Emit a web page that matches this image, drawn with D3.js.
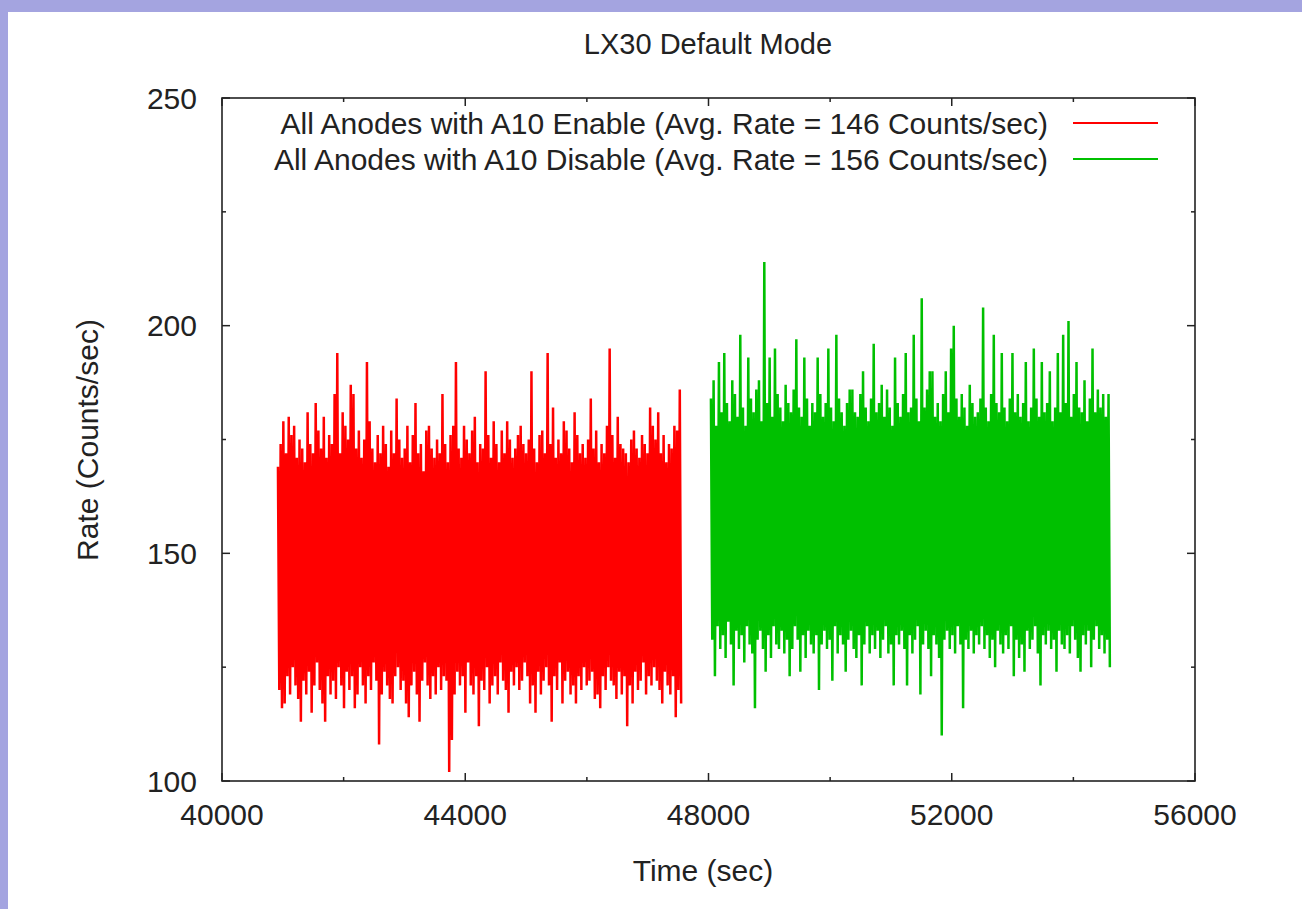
<!DOCTYPE html>
<html>
<head>
<meta charset="utf-8">
<script src="https://cdn.jsdelivr.net/npm/d3@7"></script>
<style>
  body { margin: 0; background: #fff; }
  text { font-family: "Liberation Sans", Arial, sans-serif; fill: #222; }
</style>
</head>
<body>
<svg id="chart" width="1302" height="909"></svg>
<script>
// rate samples (counts/sec), alternating peak / trough
var redRate = [
  169,120, 174,116, 179,117, 172,123, 180,119, 176,125, 178,121, 171,118, 175,113, 173,122,
  170,119, 181,124, 174,115, 172,121, 183,126, 177,120, 173,117, 180,113, 171,123, 176,119,
  174,122, 185,118, 194,125, 172,121, 181,116, 178,124, 175,120, 187,123, 185,116, 173,119,
  177,125, 171,121, 175,117, 192,123, 179,120, 173,126, 170,122, 176,108, 172,119, 178,124,
  174,121, 169,118, 177,117, 172,123, 184,125, 175,120, 171,122, 173,117, 178,114, 170,121,
  176,124, 183,119, 172,113, 174,122, 168,126, 177,121, 178,118, 173,123, 171,119, 175,125,
  172,120, 185,123, 174,122, 170,102, 176,109, 178,119, 192,124, 173,121, 171,123, 178,115,
  175,126, 172,121, 177,119, 180,123, 170,112, 174,122, 173,120, 190,125, 176,117, 171,121,
  179,123, 174,119, 170,126, 177,122, 172,120, 179,115, 175,124, 171,121, 173,125, 176,120,
  178,122, 174,126, 172,123, 175,117, 190,121, 173,115, 170,124, 176,119, 177,122, 172,125,
  194,121, 174,113, 182,123, 171,120, 175,126, 172,117, 179,122, 177,124, 173,119, 170,121,
  181,117, 176,123, 172,120, 174,125, 171,121, 175,122, 184,124, 173,118, 177,119, 170,116,
  174,123, 172,120, 178,125, 195,122, 176,121, 171,118, 180,124, 174,119, 173,123, 172,112,
  170,121, 175,117, 177,124, 173,120, 171,122, 176,126, 174,119, 172,123, 182,121, 178,125,
  175,122, 181,120, 172,117, 176,124, 170,121, 174,119, 173,123, 178,114, 177,120, 186,117
];
var greenRate = [
  184,131, 188,123, 178,134, 192,129, 181,132, 194,127, 183,135, 179,130, 188,121, 185,133,
  180,129, 198,132, 182,126, 178,134, 193,130, 184,128, 181,116, 186,131, 188,133, 179,129,
  214,124, 183,132, 193,127, 180,134, 195,130, 185,129, 182,133, 179,128, 187,131, 183,123,
  181,129, 186,134, 197,131, 182,124, 180,132, 193,127, 184,133, 178,130, 183,128, 181,132,
  193,120, 185,130, 180,133, 183,129, 195,131, 182,122, 179,134, 198,128, 184,132, 181,130,
  178,124, 183,131, 186,133, 186,129, 181,127, 180,132, 185,121, 190,130, 182,134, 179,128,
  184,132, 196,129, 181,133, 183,127, 187,131, 180,134, 186,128, 182,130, 178,121, 193,132,
  183,130, 180,133, 185,129, 194,121, 181,132, 182,128, 198,131, 184,134, 179,119, 206,130,
  182,133, 186,129, 190,123, 190,132, 180,130, 183,127, 179,110, 185,131, 190,133, 181,129,
  195,132, 200,128, 184,134, 180,130, 185,116, 182,131, 178,129, 187,133, 183,128, 180,132,
  181,130, 184,134, 204,129, 182,132, 179,127, 185,131, 198,125, 183,133, 181,130, 194,128,
  182,132, 179,129, 184,134, 194,123, 181,131, 185,127, 180,130, 183,124, 192,133, 179,129,
  182,131, 195,134, 184,128, 180,121, 192,132, 181,130, 183,133, 190,129, 179,131, 182,124,
  194,133, 181,130, 198,129, 183,132, 201,128, 180,134, 185,131, 192,127, 182,124, 181,132,
  188,130, 179,133, 184,125, 195,131, 181,134, 186,129, 182,132, 185,128, 180,131, 185,125
];
var redSpan = [40920, 47550];
var greenSpan = [48040, 54600];
var seriesNames = [
  "All Anodes with A10 Enable (Avg. Rate = 146 Counts/sec)",
  "All Anodes with A10 Disable (Avg. Rate = 156 Counts/sec)"
];
var seriesColors = ["#ff0000", "#00c000"];
var xTicks = [40000, 44000, 48000, 52000, 56000];
var xMinor = [42000, 46000, 50000, 54000];
var yTicks = [100, 150, 200, 250];
var yMinor = [125, 175, 225];

var svg = d3.select("#chart");

// lavender frame of the original screenshot
svg.append("rect").attr("x", 0).attr("y", 0).attr("width", 1302).attr("height", 12).attr("fill", "#a4a4e0");
svg.append("rect").attr("x", 0).attr("y", 0).attr("width", 8).attr("height", 909).attr("fill", "#a4a4e0");

var pLeft = 222, pRight = 1195, pTop = 98, pBottom = 781;

var x = d3.scaleLinear().domain([40000, 56000]).range([pLeft, pRight]);
var y = d3.scaleLinear().domain([100, 250]).range([pBottom, pTop]);

function toPoints(vals, span) {
    var step = (span[1] - span[0]) / (vals.length - 1);
    return vals.map(function(v, i) { return [span[0] + i * step, v]; });
}

var line = d3.line()
             .x(function(d) { return x(d[0]); })
             .y(function(d) { return y(d[1]); });

var plot = svg.append("g");
plot.append("path")
    .datum(toPoints(redRate, redSpan))
    .attr("d", line)
    .attr("fill", "none")
    .attr("stroke", seriesColors[0])
    .attr("stroke-width", 2.5)
    .attr("stroke-linejoin", "bevel");
plot.append("path")
    .datum(toPoints(greenRate, greenSpan))
    .attr("d", line)
    .attr("fill", "none")
    .attr("stroke", seriesColors[1])
    .attr("stroke-width", 2.5)
    .attr("stroke-linejoin", "bevel");

// gnuplot style ticks: inward, mirrored
var ax = svg.append("g").attr("stroke", "#222").attr("stroke-width", 1.5);
xTicks.concat(xMinor).forEach(function(t) {
    var len = xTicks.indexOf(t) >= 0 ? 8 : 4;
    ax.append("line").attr("x1", x(t)).attr("x2", x(t)).attr("y1", pBottom).attr("y2", pBottom - len);
    ax.append("line").attr("x1", x(t)).attr("x2", x(t)).attr("y1", pTop).attr("y2", pTop + len);
});
yTicks.concat(yMinor).forEach(function(t) {
    var len = yTicks.indexOf(t) >= 0 ? 8 : 4;
    ax.append("line").attr("x1", pLeft).attr("x2", pLeft + len).attr("y1", y(t)).attr("y2", y(t));
    ax.append("line").attr("x1", pRight).attr("x2", pRight - len).attr("y1", y(t)).attr("y2", y(t));
});
svg.append("rect")
   .attr("x", pLeft).attr("y", pTop)
   .attr("width", pRight - pLeft).attr("height", pBottom - pTop)
   .attr("fill", "none").attr("stroke", "#222").attr("stroke-width", 1.6);

svg.selectAll(".xlab").data(xTicks).enter().append("text")
   .attr("class", "xlab")
   .attr("x", function(d) { return x(d); })
   .attr("y", 825)
   .attr("text-anchor", "middle")
   .style("font-size", "30px")
   .text(function(d) { return d; });

svg.selectAll(".ylab").data(yTicks).enter().append("text")
   .attr("class", "ylab")
   .attr("x", 197)
   .attr("y", function(d) { return y(d); })
   .attr("dy", "0.36em")
   .attr("text-anchor", "end")
   .style("font-size", "30px")
   .text(function(d) { return d; });

svg.append("text")
   .attr("x", 708).attr("y", 54)
   .attr("text-anchor", "middle")
   .style("font-size", "29px")
   .text("LX30 Default Mode");

svg.append("text")
   .attr("x", 703).attr("y", 881)
   .attr("text-anchor", "middle")
   .style("font-size", "30px")
   .text("Time (sec)");

svg.append("text")
   .attr("transform", "translate(98,440) rotate(-90)")
   .attr("text-anchor", "middle")
   .style("font-size", "30px")
   .text("Rate (Counts/sec)");

var legend = svg.append("g");
seriesNames.forEach(function(name, i) {
    var ly = 123 + i * 36;
    legend.append("text")
          .attr("x", 1048).attr("y", ly)
          .attr("dy", "0.36em")
          .attr("text-anchor", "end")
          .style("font-size", "30px")
          .text(name);
    legend.append("line")
          .attr("x1", 1073).attr("x2", 1158)
          .attr("y1", ly).attr("y2", ly)
          .attr("stroke", seriesColors[i])
          .attr("stroke-width", 2);
});
</script>
</body>
</html>
